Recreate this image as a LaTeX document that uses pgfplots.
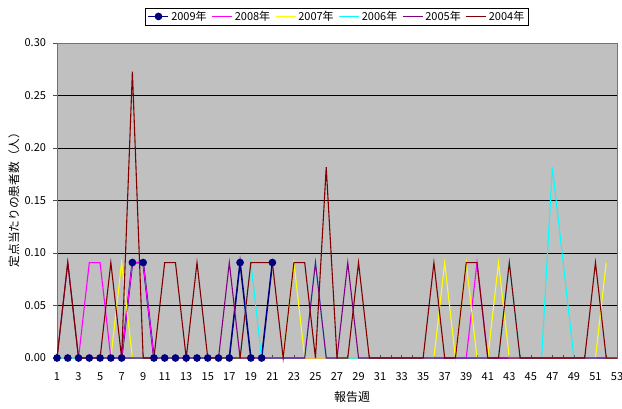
\documentclass[border=0pt]{standalone}
\usepackage{pgfplots}
\pgfplotsset{compat=1.18}
\usepackage{pgfplotstable}
\usepackage{fontspec}
\setmainfont{Noto Sans CJK JP}

\definecolor{plotbg}{RGB}{192,192,192}
\definecolor{c2009}{RGB}{0,0,128}
\definecolor{c2008}{RGB}{255,0,255}
\definecolor{c2007}{RGB}{255,255,0}
\definecolor{c2006}{RGB}{0,255,255}
\definecolor{c2005}{RGB}{128,0,128}
\definecolor{c2004}{RGB}{128,0,0}

% week, then 2009 ... 2004 (nan = no report that week)
\pgfplotstableread{
w  y2009  y2008  y2007  y2006  y2005  y2004
1  0      0      0      0      0      0
2  0      0      0      0      0.0909 0.0909
3  0      0      0      0      0      0
4  0      0.0909 0      0      0      0
5  0      0.0909 0      0      0      0
6  0      0      0      0      0      0.0909
7  0      0      0.0909 0      0      0
8  0.0909 0.0909 0      0      0      0.2727
9  0.0909 0.0909 0      0      0      0
10 0      0      0      0      0      0
11 0      0      0      0      0      0.0909
12 0      0      0      0      0      0.0909
13 0      0      0      0      0      0
14 0      0      0      0      0      0.0909
15 0      0      0      0      0      0
16 0      0      0      0      0      0
17 0      0      0      0      0.0909 0
18 0.0909 0      0      0      0      0
19 0      0      0      0.0909 0      0.0909
20 0      0      0      0      0      0.0909
21 0.0909 0      0      0      0      0.0909
22 nan    0      0      0      0      0
23 nan    0      0.0909 0      0      0.0909
24 nan    0      0      0      0      0.0909
25 nan    0      0      0.0909 0.0909 0
26 nan    0      0      0      0      0.1818
27 nan    0      0      0      0      0
28 nan    0      0      0      0.0909 0
29 nan    0      0      0      0      0.0909
30 nan    0      0      0      0      0
31 nan    0      0      0      0      0
32 nan    0      0      0      0      0
33 nan    0      0      0      0      0
34 nan    0      0      0      0      0
35 nan    0      0      0      0      0
36 nan    0      0      0      0      0.0909
37 nan    0      0.0909 0      0      0
38 nan    0      0      0      0      0
39 nan    0      0.0909 0      0      0.0909
40 nan    0.0909 0      0      0      0.0909
41 nan    0      0      0      0      0
42 nan    0      0.0909 0      0      0
43 nan    0      0      0.0909 0      0.0909
44 nan    0      0      0      0      0
45 nan    0      0      0      0      0
46 nan    0      0      0      0      0
47 nan    0      0      0.1818 0      0
48 nan    0      0      0.0909 0      0
49 nan    0      0      0      0      0
50 nan    0      0      0      0      0
51 nan    0      0      0      0      0.0909
52 nan    0      0.0909 0      0      0
53 nan    nan    nan    nan    nan    0
}\weekly

\begin{document}
\begin{tikzpicture}
\useasboundingbox (-57pt,-50pt) rectangle (565pt,358pt);
\begin{axis}[
    scale only axis,
    width=560pt, height=315pt,
    xmin=1, xmax=53, ymin=0, ymax=0.3,
    clip=false,
    unbounded coords=discard,
    axis background/.style={fill=plotbg},
    axis line style={draw=black!55, line width=0.8pt},
    xtick={1,3,...,53},
    minor xtick={2,4,...,52},
    ytick={0,0.05,...,0.3},
    xtick pos=left, ytick pos=left,
    tick align=outside,
    major tick length=3.5pt, minor tick length=3.5pt,
    xtick style={yshift=3.5pt, black!70, line width=0.6pt},
    ytick style={black!70, line width=0.6pt},
    ymajorgrids,
    major grid style={black, line width=0.9pt},
    tick label style={font=\fontsize{11}{13}\selectfont},
    /pgf/number format/assume math mode=true,
    yticklabel style={/pgf/number format/.cd, fixed, fixed zerofill, precision=2},
    xticklabel shift=7.5pt,
    yticklabel shift=4pt,
    xlabel={報告週},
    ylabel={定点当たりの患者数（人）},
    xlabel style={font=\fontsize{12}{14}\selectfont, at={(axis description cs:0.527,0)}, anchor=center, yshift=-39pt},
    ylabel style={font=\fontsize{11.7}{14}\selectfont, at={(axis description cs:0,0.511)}, anchor=center, yshift=43pt},
    legend columns=6,
    legend style={at={(0.5,1.057)}, anchor=south, draw=black, fill=white,
        font=\fontsize{11}{13}\selectfont, inner xsep=2pt, inner ysep=1pt,
        /tikz/every even column/.append style={column sep=3pt}},
    legend image code/.code={\draw[mark repeat=2,mark phase=2] plot coordinates {(0pt,0pt) (10pt,0pt) (20pt,0pt)};},
]
\addplot[c2009, line width=1.6pt, mark=*, mark size=3pt] table[x=w, y=y2009] {\weekly};
\addlegendentry{2009年}
\addplot[c2008, line width=1.1pt] table[x=w, y=y2008] {\weekly};
\addlegendentry{2008年}
\addplot[c2007, line width=1.1pt] table[x=w, y=y2007] {\weekly};
\addlegendentry{2007年}
\addplot[c2006, line width=1.1pt] table[x=w, y=y2006] {\weekly};
\addlegendentry{2006年}
\addplot[c2005, line width=1.1pt] table[x=w, y=y2005] {\weekly};
\addlegendentry{2005年}
\addplot[c2004, line width=1.1pt] table[x=w, y=y2004] {\weekly};
\addlegendentry{2004年}
\end{axis}
\end{tikzpicture}
\end{document}
